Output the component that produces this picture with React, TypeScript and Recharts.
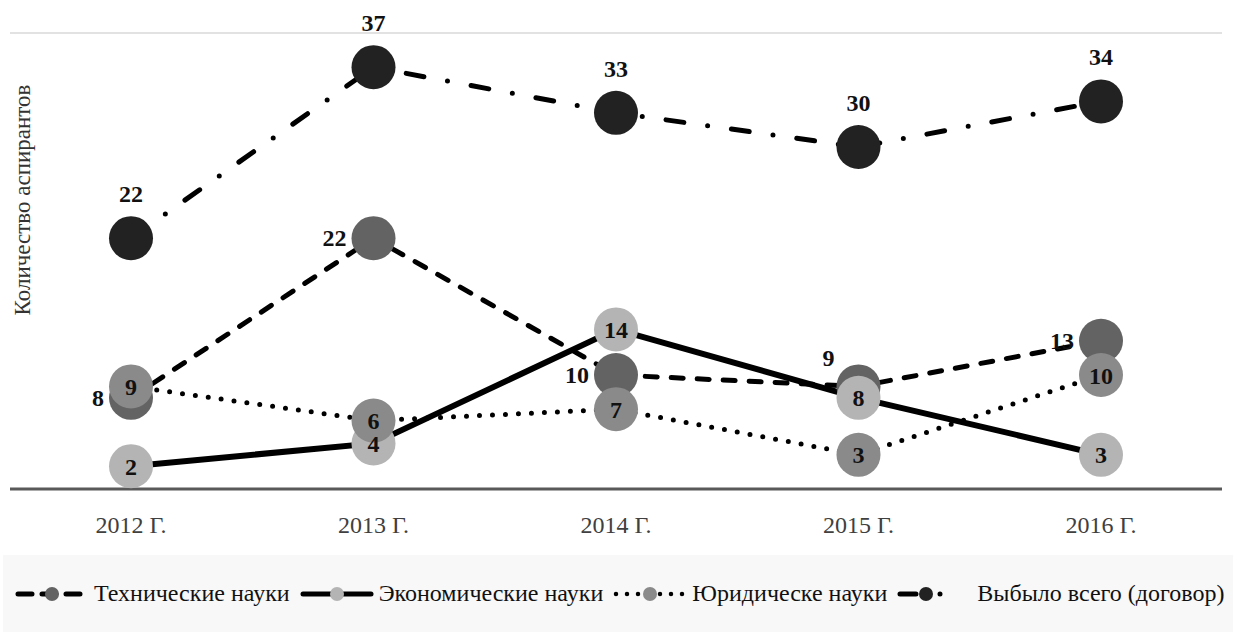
import React from "react";
import {
  LineChart,
  Line,
  XAxis,
  YAxis,
  CartesianGrid,
  LabelList,
} from "recharts";

const years = ["2012 Г.", "2013 Г.", "2014 Г.", "2015 Г.", "2016 Г."];
const technical = [8, 22, 10, 9, 13];
const economic = [2, 4, 14, 8, 3];
const legal = [9, 6, 7, 3, 10];
const dropped = [22, 37, 33, 30, 34];
const yTicks = [0, 5, 10, 15, 20, 25, 30, 35, 40];
// where each label of the "technical" series sits relative to its marker
const technicalLabelSide = ["left", "left", "left", "topLeft", "left"];

const data = years.map((year, i) => ({
  year,
  technical: technical[i],
  economic: economic[i],
  legal: legal[i],
  dropped: dropped[i],
}));

const FONT = '"Liberation Serif", "Times New Roman", serif';
const COLORS = {
  technical: "#636363",
  economic: "#b4b4b4",
  legal: "#8a8a8a",
  dropped: "#222222",
};

const labelStyle = {
  fontFamily: FONT,
  fontSize: 24,
  fontWeight: "bold" as const,
  fill: "#111",
};

const dot = (fill: string) => ({ r: 22, fill, stroke: "none", strokeWidth: 0 });

// gridlines next to the axis title are shortened, like in the original
const GridLine = (props: any) => {
  const { x1, x2, y1, y2, index } = props;
  const short = index >= 2 && index <= 7;
  return (
    <line
      key={`g-${index}`}
      x1={short ? 38 : x1}
      x2={x2}
      y1={y1}
      y2={y2}
      stroke="#d9d9d9"
      strokeWidth={1.5}
    />
  );
};

const TechnicalLabel = (props: any) => {
  const { x, y, value, index } = props;
  const side = technicalLabelSide[index];
  if (side === "topLeft") {
    return (
      <text x={x - 30} y={y - 20} textAnchor="middle" style={labelStyle}>
        {value}
      </text>
    );
  }
  return (
    <text x={x - 27} y={y} dy={8} textAnchor="end" style={labelStyle}>
      {value}
    </text>
  );
};

const LegendIcon = ({ kind }: { kind: string }) => {
  if (kind === "technical")
    return (
      <svg width={76} height={20}>
        <line x1={4} x2={72} y1={10} y2={10} stroke="#000" strokeWidth={5} strokeLinecap="round" strokeDasharray="14 10" />
        <circle cx={38} cy={10} r={7} fill={COLORS.technical} />
      </svg>
    );
  if (kind === "economic")
    return (
      <svg width={76} height={20}>
        <line x1={4} x2={72} y1={10} y2={10} stroke="#000" strokeWidth={5} strokeLinecap="round" />
        <circle cx={38} cy={10} r={7} fill={COLORS.economic} />
      </svg>
    );
  if (kind === "legal")
    return (
      <svg width={76} height={20}>
        <line x1={4} x2={72} y1={10} y2={10} stroke="#000" strokeWidth={4.5} strokeLinecap="round" strokeDasharray="0 11" />
        <circle cx={38} cy={10} r={7} fill={COLORS.legal} />
      </svg>
    );
  return (
    <svg width={56} height={20}>
      <line x1={4} x2={54} y1={10} y2={10} stroke="#000" strokeWidth={5} strokeLinecap="round" strokeDasharray="16 24 0 30" />
      <circle cx={30} cy={10} r={7} fill={COLORS.dropped} />
    </svg>
  );
};

const legendItems = [
  { kind: "technical", name: "Технические науки" },
  { kind: "economic", name: "Экономические науки" },
  { kind: "legal", name: "Юридическе науки" },
  { kind: "dropped", name: "Выбыло всего (договор)" },
];

export default function App() {
  return (
    <div
      style={{
        position: "absolute",
        left: 0,
        top: 0,
        width: 1233,
        height: 633,
        background: "#fff",
        fontFamily: FONT,
      }}
    >
      <LineChart
        width={1233}
        height={555}
        data={data}
        margin={{ top: 33, right: 11, left: 10, bottom: 26 }}
      >
        <CartesianGrid vertical={false} horizontal={GridLine} />
        <XAxis
          dataKey="year"
          padding={{ left: 121, right: 121 }}
          height={40}
          tickLine={false}
          tickMargin={21}
          axisLine={{ stroke: "#595959", strokeWidth: 3 }}
          tick={{ fontFamily: FONT, fontSize: 24, fill: "#404040" }}
        />
        <YAxis
          domain={[0, 40]}
          ticks={yTicks}
          width={0}
          tick={false}
          tickLine={false}
          axisLine={false}
        />
        <Line
          dataKey="technical"
          name="Технические науки"
          stroke="#000"
          strokeWidth={5}
          strokeDasharray="12 14"
          strokeLinecap="round"
          dot={dot(COLORS.technical)}
          activeDot={false}
          isAnimationActive={false}
        >
          <LabelList dataKey="technical" content={<TechnicalLabel />} />
        </Line>
        <Line
          dataKey="economic"
          name="Экономические науки"
          stroke="#000"
          strokeWidth={6}
          dot={dot(COLORS.economic)}
          activeDot={false}
          isAnimationActive={false}
        >
          <LabelList dataKey="economic" position="center" style={labelStyle} />
        </Line>
        <Line
          dataKey="legal"
          name="Юридическе науки"
          stroke="#000"
          strokeWidth={5}
          strokeDasharray="0 13"
          strokeLinecap="round"
          dot={dot(COLORS.legal)}
          activeDot={false}
          isAnimationActive={false}
        >
          <LabelList dataKey="legal" position="center" style={labelStyle} />
        </Line>
        <Line
          dataKey="dropped"
          name="Выбыло всего (договор)"
          stroke="#000"
          strokeWidth={5}
          strokeDasharray="18 24 0 24"
          strokeLinecap="round"
          dot={dot(COLORS.dropped)}
          activeDot={false}
          isAnimationActive={false}
        >
          <LabelList dataKey="dropped" position="top" offset={36} style={labelStyle} />
        </Line>
      </LineChart>
      <svg
        width={40}
        height={420}
        style={{ position: "absolute", left: 0, top: 0, pointerEvents: "none" }}
      >
        <text
          x={22}
          y={200}
          transform="rotate(-90 22 200)"
          textAnchor="middle"
          dominantBaseline="central"
          style={{ fontFamily: FONT, fontSize: 23, fill: "#333" }}
        >
          Количество аспирантов
        </text>
      </svg>
      <div
        style={{
          position: "absolute",
          left: 3,
          top: 555,
          width: 1230,
          height: 77,
          background: "#f8f8f8",
          display: "flex",
          alignItems: "center",
          paddingLeft: 11,
          boxSizing: "border-box",
          fontSize: 24,
          color: "#111",
        }}
      >
        {legendItems.map((item, i) => (
          <div
            key={item.kind}
            style={{ display: "flex", alignItems: "center", marginRight: i < 3 ? 9 : 0 }}
          >
            <LegendIcon kind={item.kind} />
            <span style={{ marginLeft: item.kind === "dropped" ? 25 : 4, whiteSpace: "nowrap" }}>
              {item.name}
            </span>
          </div>
        ))}
      </div>
    </div>
  );
}
